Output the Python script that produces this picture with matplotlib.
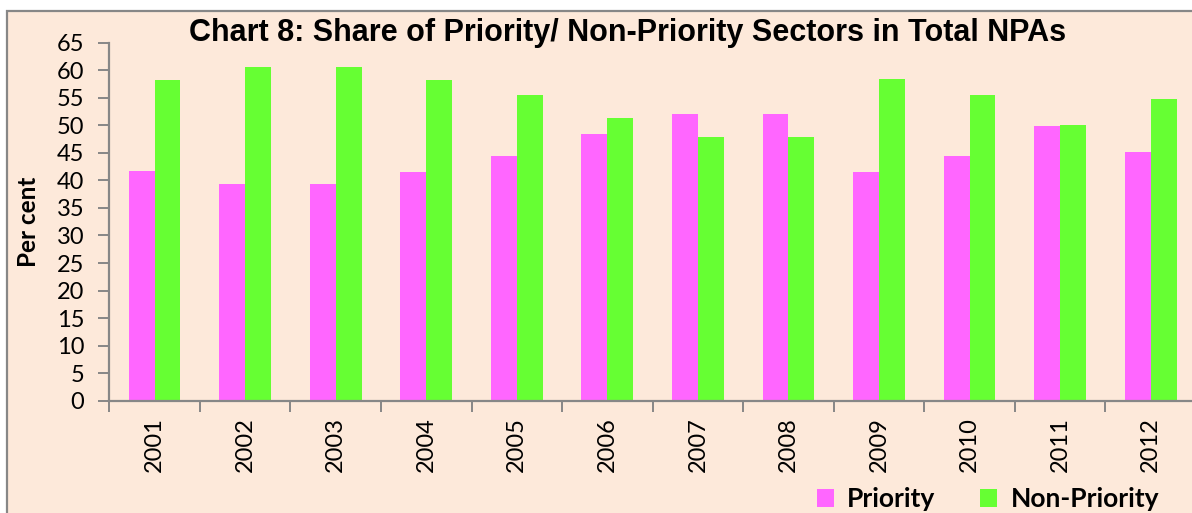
import matplotlib
matplotlib.use("Agg")

import matplotlib.pyplot as plt
import numpy as np
from matplotlib.patches import Rectangle, Patch

# values (per cent)
years = ["2001", "2002", "2003", "2004", "2005", "2006",
         "2007", "2008", "2009", "2010", "2011", "2012"]
priority = [41.7, 39.4, 39.3, 41.6, 44.4, 48.5, 52.0, 52.0, 41.5, 44.4, 49.9, 45.2]
non_priority = [58.2, 60.6, 60.6, 58.3, 55.5, 51.3, 47.9, 47.9, 58.4, 55.5, 50.1, 54.7]
y_ticks = list(range(0, 70, 5))

TITLE = "Chart 8: Share of Priority/ Non-Priority Sectors in Total NPAs"
PINK = "#FF66FF"
GREEN = "#66FF33"
PEACH = "#FDE9DA"
GRAY = "#878787"

W, H, DPI = 1192, 513, 100
fig = plt.figure(figsize=(W / DPI, H / DPI), dpi=DPI, facecolor="white")

# chart area frame: cut off at right and bottom in the reference
frame = Rectangle((7.3 / W, -0.1), 1.2, 1.1 - 11 / H, transform=fig.transFigure,
                  facecolor=PEACH, edgecolor=GRAY, linewidth=1.6, zorder=-5)
fig.patches.append(frame)

# axes box in pixels: x 109.3 -> 1196, y 42.7 -> 400.7
ax = fig.add_axes([109.3 / W, (H - 400.7) / H, 1086.7 / W, 358 / H])
ax.set_facecolor("none")
ax.set_zorder(2)

x = np.arange(len(years))
bw = 1 / 3.5
ax.bar(x - bw / 2, priority, bw, color=PINK, label="Priority", zorder=2)
ax.bar(x + bw / 2, non_priority, bw, color=GREEN, label="Non-Priority", zorder=2)

ax.set_xlim(-0.5, len(years) - 0.5)
ax.set_ylim(0, 65)
ax.set_yticks(y_ticks)
ax.set_yticklabels([str(v) for v in y_ticks], fontfamily="Lato", fontsize=17)

# category boundaries carry the tick marks, centres carry the labels
ax.set_xticks(np.arange(len(years) + 1) - 0.5)
ax.set_xticklabels([])
ax.set_xticks(x, minor=True)
ax.set_xticklabels(years, minor=True, rotation=90, fontfamily="Lato", fontsize=17)
ax.tick_params(axis="x", which="minor", length=0, pad=12)
ax.tick_params(axis="x", which="major", length=8, width=1.4, color=GRAY)
ax.tick_params(axis="y", length=8, width=1.4, color=GRAY, pad=10)

for side in ("top", "right"):
    ax.spines[side].set_visible(False)
for side in ("left", "bottom"):
    ax.spines[side].set_color(GRAY)
    ax.spines[side].set_linewidth(1.6)

ax.set_ylabel("Per cent", fontfamily="Lato", fontweight="bold", fontsize=17.5, labelpad=12)

fig.text(627.5 / W, 1 - 33 / H, TITLE, ha="center", va="center",
         fontfamily="Liberation Sans", fontweight="bold", fontsize=22)

handles = [Patch(facecolor=PINK, label="Priority"),
           Patch(facecolor=GREEN, label="Non-Priority")]
fig.legend(handles=handles, loc="center", bbox_to_anchor=(988 / W, 1 - 499 / H),
           ncol=2, frameon=False, prop={"family": "Lato", "weight": "bold", "size": 19},
           handlelength=0.65, handleheight=0.65, handletextpad=0.5,
           columnspacing=1.7, borderpad=0, borderaxespad=0)

fig.savefig("out.png", dpi=DPI)
plt.close(fig)
